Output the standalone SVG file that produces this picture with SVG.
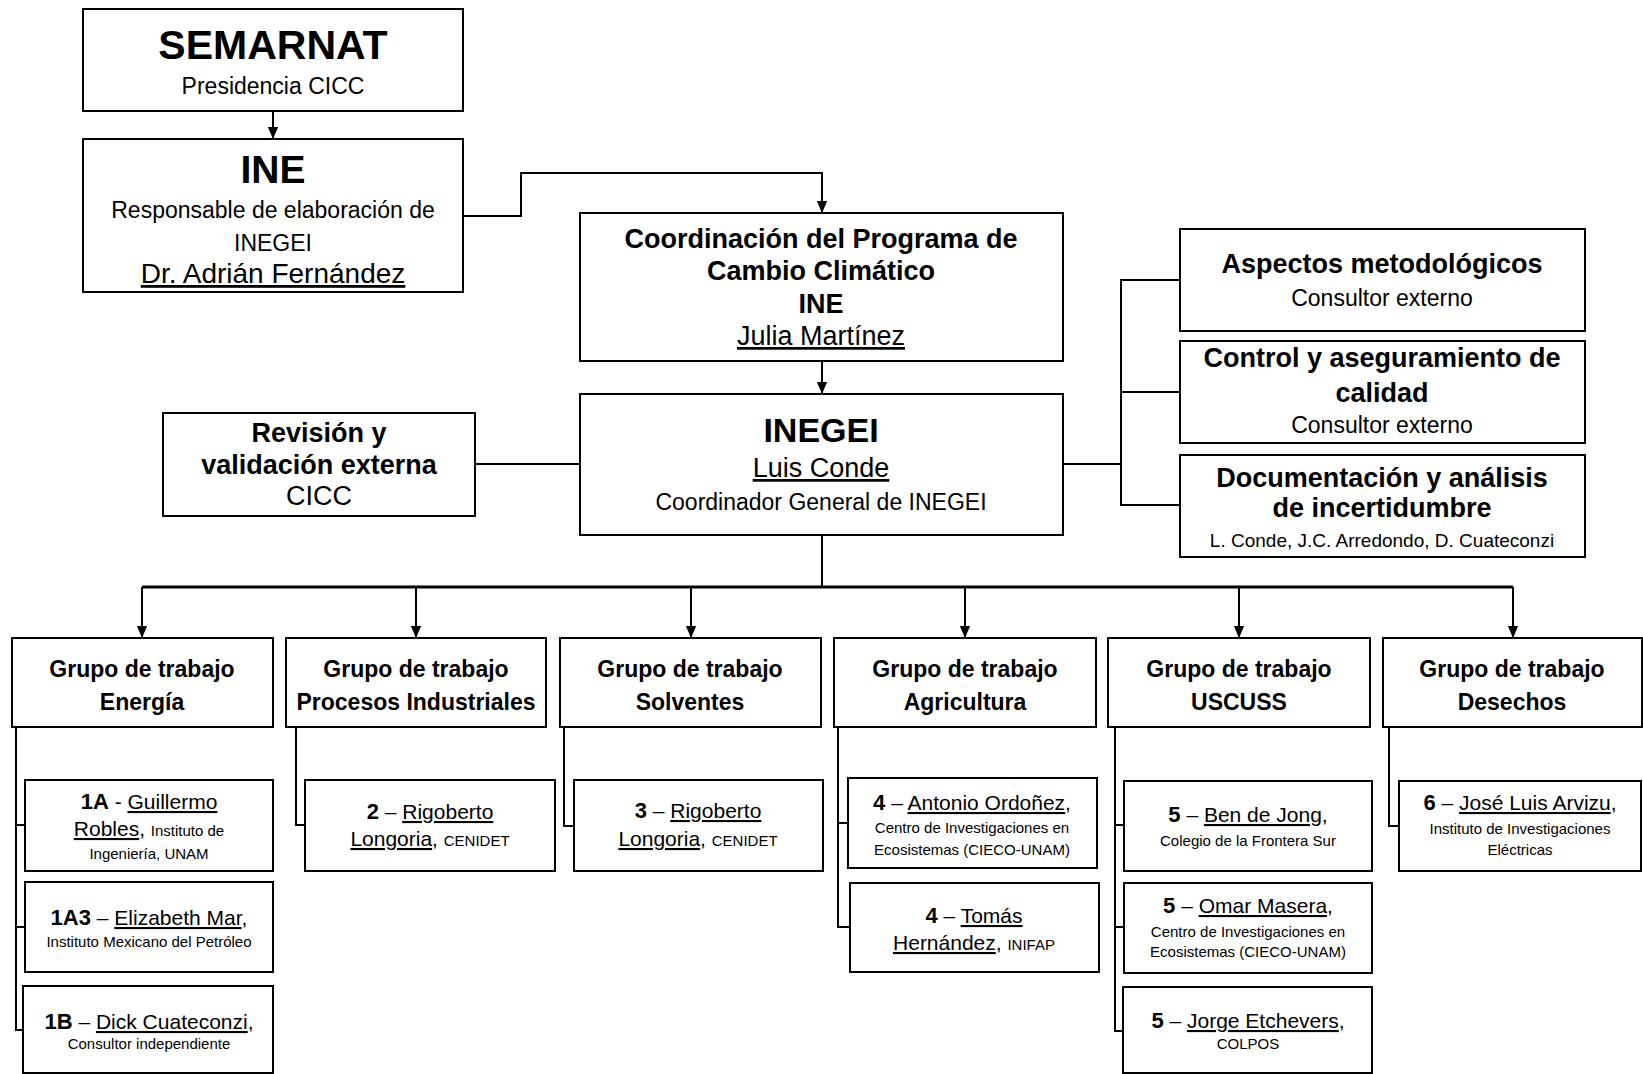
<svg xmlns="http://www.w3.org/2000/svg" width="1643" height="1074" viewBox="0 0 1643 1074">
<style>
.box{fill:#fff;stroke:#000;stroke-width:2}
.ln{fill:none;stroke:#000;stroke-width:2}
.bus{fill:none;stroke:#000;stroke-width:3}
text{font-family:"Liberation Sans",Arial,sans-serif;text-anchor:middle;fill:#000}
.b{font-weight:bold}
.u{text-decoration:underline}
.s41{font-size:41px}.s39{font-size:39px}.s34{font-size:34px}.s28{font-size:28px}.s27{font-size:27px}.s23{font-size:23px}
.s22{font-size:22px}.s21{font-size:21px}.s19{font-size:19px}.s15{font-size:15px}
</style>
<defs>
<marker id="ar" markerUnits="userSpaceOnUse" markerWidth="12" markerHeight="14" refX="14" refY="6" orient="auto" viewBox="0 0 14 12">
<path d="M0,0 L14,6 L0,12 z" fill="#000"/>
</marker>
</defs>

<g id="connectors">
<line class="ln" x1="273" y1="111" x2="273" y2="139" marker-end="url(#ar)"/>
<path class="ln" d="M463,216 H521 V173 H822 V213" marker-end="url(#ar)"/>
<line class="ln" x1="822" y1="361" x2="822" y2="394" marker-end="url(#ar)"/>
<line class="ln" x1="475" y1="464" x2="580" y2="464"/>
<path class="ln" d="M1063,464 H1121 M1180,280 H1121 V505 H1180 M1121,392 H1180"/>
<line class="ln" x1="822" y1="535" x2="822" y2="587"/>
<line class="bus" x1="142" y1="587" x2="1513" y2="587"/>
<line class="ln" x1="142" y1="587" x2="142" y2="638" marker-end="url(#ar)"/>
<line class="ln" x1="416" y1="587" x2="416" y2="638" marker-end="url(#ar)"/>
<line class="ln" x1="691" y1="587" x2="691" y2="638" marker-end="url(#ar)"/>
<line class="ln" x1="965" y1="587" x2="965" y2="638" marker-end="url(#ar)"/>
<line class="ln" x1="1239" y1="587" x2="1239" y2="638" marker-end="url(#ar)"/>
<line class="ln" x1="1513" y1="587" x2="1513" y2="638" marker-end="url(#ar)"/>
<path class="ln" d="M16,727 V1030 H24 M16,825 H25 M16,927 H25"/>
<path class="ln" d="M296,727 V825 H305"/>
<path class="ln" d="M564,727 V826 H574"/>
<path class="ln" d="M838,727 V927 H850 M838,823 H848"/>
<path class="ln" d="M1115,727 V1031 H1123 M1115,825 H1124 M1115,927 H1124"/>
<path class="ln" d="M1389,727 V826 H1399"/>
</g>

<g id="semarnat">
<rect class="box" x="83" y="9" width="380" height="102"/>
<text x="273" y="59" class="b s41">SEMARNAT</text>
<text x="273" y="94" class="s23">Presidencia CICC</text>
</g>

<g id="ine">
<rect class="box" x="83" y="139" width="380" height="153"/>
<text x="273" y="183" class="b s39">INE</text>
<text x="273" y="218" class="s23">Responsable de elaboración de</text>
<text x="273" y="251" class="s23">INEGEI</text>
<text x="273" y="283" class="s28 u">Dr. Adrián Fernández</text>
</g>

<g id="coordinacion">
<rect class="box" x="580" y="213" width="483" height="148"/>
<text x="821" y="248" class="b s27">Coordinación del Programa de</text>
<text x="821" y="280" class="b s27">Cambio Climático</text>
<text x="821" y="313" class="b s27">INE</text>
<text x="821" y="345" class="s27 u">Julia Martínez</text>
</g>

<g id="inegei">
<rect class="box" x="580" y="394" width="483" height="141"/>
<text x="821" y="442" class="b s34">INEGEI</text>
<text x="821" y="477" class="s27 u">Luis Conde</text>
<text x="821" y="510" class="s23">Coordinador General de INEGEI</text>
</g>

<g id="revision">
<rect class="box" x="163" y="413" width="312" height="103"/>
<text x="319" y="442" class="b s27">Revisión y</text>
<text x="319" y="474" class="b s27">validación externa</text>
<text x="319" y="505" class="s27">CICC</text>
</g>

<g id="aspectos">
<rect class="box" x="1180" y="229" width="405" height="102"/>
<text x="1382" y="273" class="b s27">Aspectos metodológicos</text>
<text x="1382" y="306" class="s23">Consultor externo</text>
</g>

<g id="control">
<rect class="box" x="1180" y="341" width="405" height="102"/>
<text x="1382" y="367" class="b s27">Control y aseguramiento de</text>
<text x="1382" y="402" class="b s27">calidad</text>
<text x="1382" y="433" class="s23">Consultor externo</text>
</g>

<g id="documentacion">
<rect class="box" x="1180" y="455" width="405" height="102"/>
<text x="1382" y="487" class="b s27">Documentación y análisis</text>
<text x="1382" y="517" class="b s27">de incertidumbre</text>
<text x="1382" y="547" class="s19">L. Conde, J.C. Arredondo, D. Cuateconzi</text>
</g>

<g id="gt-energia">
<rect class="box" x="12" y="638" width="261" height="89"/>
<text x="142" y="677" class="b s23">Grupo de trabajo</text>
<text x="142" y="710" class="b s23">Energía</text>
</g>
<g id="gt-procesos">
<rect class="box" x="286" y="638" width="260" height="89"/>
<text x="416" y="677" class="b s23">Grupo de trabajo</text>
<text x="416" y="710" class="b s23">Procesos Industriales</text>
</g>
<g id="gt-solventes">
<rect class="box" x="560" y="638" width="261" height="89"/>
<text x="690" y="677" class="b s23">Grupo de trabajo</text>
<text x="690" y="710" class="b s23">Solventes</text>
</g>
<g id="gt-agricultura">
<rect class="box" x="834" y="638" width="262" height="89"/>
<text x="965" y="677" class="b s23">Grupo de trabajo</text>
<text x="965" y="710" class="b s23">Agricultura</text>
</g>
<g id="gt-uscuss">
<rect class="box" x="1108" y="638" width="262" height="89"/>
<text x="1239" y="677" class="b s23">Grupo de trabajo</text>
<text x="1239" y="710" class="b s23">USCUSS</text>
</g>
<g id="gt-desechos">
<rect class="box" x="1383" y="638" width="259" height="89"/>
<text x="1512" y="677" class="b s23">Grupo de trabajo</text>
<text x="1512" y="710" class="b s23">Desechos</text>
</g>

<g id="p-1a">
<rect class="box" x="25" y="780" width="248" height="91"/>
<text x="149" y="809"><tspan class="b s22">1A</tspan><tspan class="s21"> - </tspan><tspan class="s21 u">Guillermo</tspan></text>
<text x="149" y="836"><tspan class="s21 u">Robles</tspan><tspan class="s21">, </tspan><tspan class="s15">Instituto de</tspan></text>
<text x="149" y="859" class="s15">Ingeniería, UNAM</text>
</g>
<g id="p-1a3">
<rect class="box" x="25" y="882" width="248" height="90"/>
<text x="149" y="925"><tspan class="b s22">1A3</tspan><tspan class="s21"> – </tspan><tspan class="s21 u">Elizabeth Mar</tspan><tspan class="s21">,</tspan></text>
<text x="149" y="947" class="s15">Instituto Mexicano del Petróleo</text>
</g>
<g id="p-1b">
<rect class="box" x="23" y="986" width="250" height="87"/>
<text x="149" y="1029"><tspan class="b s22">1B</tspan><tspan class="s21"> – </tspan><tspan class="s21 u">Dick Cuateconzi</tspan><tspan class="s21">,</tspan></text>
<text x="149" y="1049" class="s15">Consultor independiente</text>
</g>
<g id="p-2">
<rect class="box" x="305" y="780" width="250" height="91"/>
<text x="430" y="819"><tspan class="b s22">2</tspan><tspan class="s21"> – </tspan><tspan class="s21 u">Rigoberto</tspan></text>
<text x="430" y="846"><tspan class="s21 u">Longoria</tspan><tspan class="s21">, </tspan><tspan class="s15">CENIDET</tspan></text>
</g>
<g id="p-3">
<rect class="box" x="574" y="780" width="249" height="91"/>
<text x="698" y="818"><tspan class="b s22">3</tspan><tspan class="s21"> – </tspan><tspan class="s21 u">Rigoberto</tspan></text>
<text x="698" y="846"><tspan class="s21 u">Longoria</tspan><tspan class="s21">, </tspan><tspan class="s15">CENIDET</tspan></text>
</g>
<g id="p-4a">
<rect class="box" x="848" y="778" width="249" height="90"/>
<text x="972" y="810"><tspan class="b s22">4</tspan><tspan class="s21"> – </tspan><tspan class="s21 u">Antonio Ordoñez</tspan><tspan class="s21">,</tspan></text>
<text x="972" y="833" class="s15">Centro de Investigaciones en</text>
<text x="972" y="855" class="s15">Ecosistemas (CIECO-UNAM)</text>
</g>
<g id="p-4b">
<rect class="box" x="850" y="883" width="249" height="89"/>
<text x="974" y="923"><tspan class="b s22">4</tspan><tspan class="s21"> – </tspan><tspan class="s21 u">Tomás</tspan></text>
<text x="974" y="950"><tspan class="s21 u">Hernández</tspan><tspan class="s21">, </tspan><tspan class="s15">INIFAP</tspan></text>
</g>
<g id="p-5a">
<rect class="box" x="1124" y="781" width="248" height="90"/>
<text x="1248" y="822"><tspan class="b s22">5</tspan><tspan class="s21"> – </tspan><tspan class="s21 u">Ben de Jong</tspan><tspan class="s21">,</tspan></text>
<text x="1248" y="846" class="s15">Colegio de la Frontera Sur</text>
</g>
<g id="p-5b">
<rect class="box" x="1124" y="883" width="248" height="90"/>
<text x="1248" y="913"><tspan class="b s22">5</tspan><tspan class="s21"> – </tspan><tspan class="s21 u">Omar Masera</tspan><tspan class="s21">,</tspan></text>
<text x="1248" y="937" class="s15">Centro de Investigaciones en</text>
<text x="1248" y="957" class="s15">Ecosistemas (CIECO-UNAM)</text>
</g>
<g id="p-5c">
<rect class="box" x="1123" y="987" width="249" height="86"/>
<text x="1248" y="1028"><tspan class="b s22">5</tspan><tspan class="s21"> – </tspan><tspan class="s21 u">Jorge Etchevers</tspan><tspan class="s21">,</tspan></text>
<text x="1248" y="1049" class="s15">COLPOS</text>
</g>
<g id="p-6">
<rect class="box" x="1399" y="781" width="242" height="90"/>
<text x="1520" y="810"><tspan class="b s22">6</tspan><tspan class="s21"> – </tspan><tspan class="s21 u">José Luis Arvizu</tspan><tspan class="s21">,</tspan></text>
<text x="1520" y="834" class="s15">Instituto de Investigaciones</text>
<text x="1520" y="855" class="s15">Eléctricas</text>
</g>
</svg>
